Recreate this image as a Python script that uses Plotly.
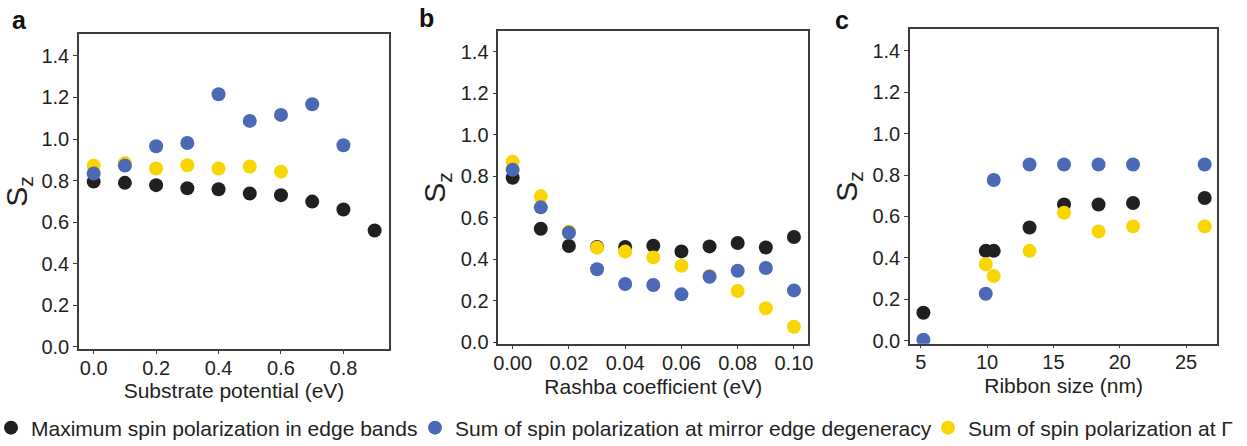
import plotly.graph_objects as go

# ---------------- data ----------------
a_x = [0.0, 0.1, 0.2, 0.3, 0.4, 0.5, 0.6, 0.7, 0.8, 0.9]
a_black = [0.795, 0.789, 0.778, 0.763, 0.758, 0.738, 0.730, 0.699, 0.661, 0.560]
a_blue_x = [0.0, 0.1, 0.2, 0.3, 0.4, 0.5, 0.6, 0.7, 0.8]
a_blue = [0.834, 0.872, 0.965, 0.981, 1.215, 1.087, 1.116, 1.167, 0.970]
a_yellow_x = [0.0, 0.1, 0.2, 0.3, 0.4, 0.5, 0.6]
a_yellow = [0.872, 0.884, 0.858, 0.874, 0.858, 0.868, 0.843]

b_x = [0.00, 0.01, 0.02, 0.03, 0.04, 0.05, 0.06, 0.07, 0.08, 0.09, 0.10]
b_black = [0.793, 0.547, 0.464, 0.459, 0.459, 0.465, 0.438, 0.462, 0.478, 0.457, 0.507]
b_blue = [0.831, 0.650, 0.528, 0.352, 0.281, 0.276, 0.231, 0.316, 0.345, 0.358, 0.250]
b_yellow = [0.870, 0.703, 0.533, 0.456, 0.437, 0.409, 0.369, 0.320, 0.247, 0.164, 0.075]

c_x = [5.2, 9.9, 10.5, 13.2, 15.8, 18.4, 21.0, 26.4]
c_black = [0.135, 0.434, 0.434, 0.547, 0.658, 0.658, 0.665, 0.689]
c_blue = [0.005, 0.227, 0.776, 0.851, 0.851, 0.851, 0.851, 0.851]
c_yellow_x = [9.9, 10.5, 13.2, 15.8, 18.4, 21.0, 26.4]
c_yellow = [0.369, 0.312, 0.434, 0.618, 0.528, 0.552, 0.552]

series_names = [
    "Maximum spin polarization in edge bands",
    "Sum of spin polarization at mirror edge degeneracy",
    "Sum of spin polarization at Γ",
]
x_titles = ["Substrate potential (eV)", "Rashba coefficient (eV)", "Ribbon size (nm)"]
panel_labels = ["a", "b", "c"]
y_ticks = [0.0, 0.2, 0.4, 0.6, 0.8, 1.0, 1.2, 1.4]
a_ticks = [0.0, 0.2, 0.4, 0.6, 0.8]
b_ticks = [0.00, 0.02, 0.04, 0.06, 0.08, 0.10]
c_ticks = [5, 10, 15, 20, 25]

# ---------------- style ----------------
W, H = 1247, 446
BLACK = "#221f20"
BLUE = "#4b69b5"
YELLOW = "#f9d600"
TXT = "#231f20"
FONT = "Liberation Sans, Arial, sans-serif"
MS = 14

fig = go.Figure()

panels = [
    (a_x, a_black, a_yellow_x, a_yellow, a_blue_x, a_blue),
    (b_x, b_black, b_x, b_yellow, b_x, b_blue),
    (c_x, c_black, c_yellow_x, c_yellow, c_x, c_blue),
]
for i, (xk, yk, xy, yy, xb, yb) in enumerate(panels):
    ax = "" if i == 0 else str(i + 1)
    show = i == 0
    fig.add_trace(go.Scatter(x=xk, y=yk, mode="markers", name=series_names[0],
                             marker=dict(color=BLACK, size=MS), xaxis="x" + ax, yaxis="y" + ax,
                             legendgroup="k", showlegend=show, legend="legend"))
    fig.add_trace(go.Scatter(x=xy, y=yy, mode="markers", name=series_names[2],
                             marker=dict(color=YELLOW, size=MS), xaxis="x" + ax, yaxis="y" + ax,
                             legendgroup="y", showlegend=show, legend="legend3"))
    fig.add_trace(go.Scatter(x=xb, y=yb, mode="markers", name=series_names[1],
                             marker=dict(color=BLUE, size=MS), xaxis="x" + ax, yaxis="y" + ax,
                             legendgroup="b", showlegend=show, legend="legend2"))

# domains in pixels (left, right, top, bottom)
doms = [(79, 389, 34, 349), (498.3, 808.3, 30.7, 344.3), (910, 1217.3, 29.3, 343.7)]
xranges = [[-0.047, 0.946], [-0.0051, 0.1051], [4.19, 27.35]]
yranges = [[-0.01, 1.505], [-0.0096, 1.501], [-0.0145, 1.504]]
xticks = [a_ticks, b_ticks, c_ticks]
xfmts = [".1f", ".2f", "d"]

axis_common = dict(showline=True, mirror=True, linecolor="#3c3c3c", linewidth=1.5,
                   ticks="outside", tickwidth=1.2, tickcolor="#3c3c3c",
                   showgrid=False, zeroline=False, automargin=False,
                   tickfont=dict(family=FONT, size=20, color=TXT))

layout = {}
for i in range(3):
    l, r, t, b = doms[i]
    sfx = "" if i == 0 else str(i + 1)
    layout["xaxis" + sfx] = dict(
        domain=[l / W, r / W], range=xranges[i], tickvals=xticks[i], tickformat=xfmts[i],
        anchor="y" + sfx, ticklen=3, ticklabelstandoff=-3,
        title=dict(text=x_titles[i], font=dict(family=FONT, size=21, color=TXT), standoff=6),
        **axis_common)
    layout["yaxis" + sfx] = dict(
        domain=[(H - b) / H, (H - t) / H], range=yranges[i], tickvals=y_ticks, tickformat=".1f",
        anchor="x" + sfx, ticklen=4,
        title=dict(text="S<sub>z</sub>", font=dict(family=FONT, size=30, color=TXT), standoff=6),
        **axis_common)

fig.update_layout(**layout)

label_pos = [(10, 4), (417, 2), (833, 4)]
for lab, (px, py) in zip(panel_labels, label_pos):
    fig.add_annotation(text="<b>%s</b>" % lab, xref="paper", yref="paper",
                       x=px / W, y=1 - py / H, xanchor="left", yanchor="top", showarrow=False,
                       font=dict(family=FONT, size=25, color="#111111"))

leg_common = dict(orientation="h", xanchor="left", yanchor="middle", y=(H - 428) / H,
                  font=dict(family=FONT, size=21, color=TXT), bgcolor="rgba(0,0,0,0)",
                  borderwidth=0, itemwidth=30)

fig.update_layout(
    width=W, height=H, margin=dict(l=0, r=0, t=0, b=0, autoexpand=False),
    paper_bgcolor="white", plot_bgcolor="white",
    font=dict(family=FONT, color=TXT),
    legend=dict(x=-9 / W, **leg_common),
    legend2=dict(x=415 / W, **leg_common),
    legend3=dict(x=928 / W, **leg_common),
)

fig.write_html("out.html")
